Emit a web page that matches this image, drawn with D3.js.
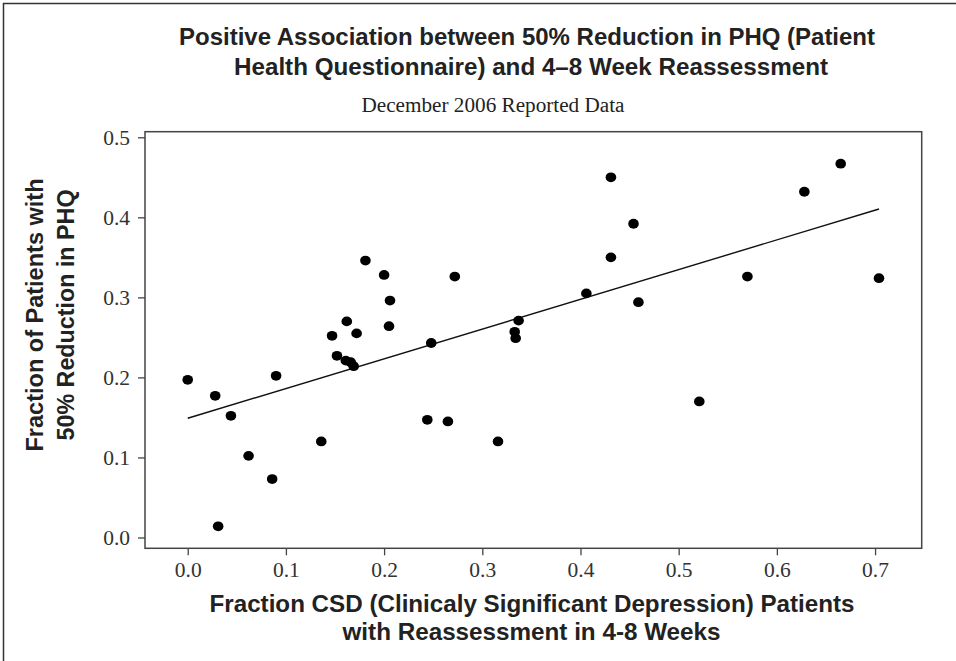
<!DOCTYPE html>
<meta charset="utf-8">
<head>
<script src="https://cdn.jsdelivr.net/npm/d3@7"></script>
<style>
  body { margin: 0; background: #fff; }
  .tick text { font-family: "Liberation Serif", "Times New Roman", serif; font-size: 21.5px; fill: #333; }
  .tick line { stroke: #444; stroke-width: 1.3; }
  .ttl { font-family: "Liberation Sans", Arial, sans-serif; font-weight: bold; fill: #222; }
</style>
</head>
<body>
<div id="chart"></div>
<script>
// data
var csdFraction = [0.000, 0.028, 0.044, 0.062, 0.086, 0.031, 0.090, 0.136, 0.152, 0.161,
                   0.166, 0.169, 0.244, 0.265, 0.316, 0.248, 0.334, 0.181, 0.200, 0.272,
                   0.206, 0.162, 0.147, 0.172, 0.205, 0.337, 0.333, 0.431, 0.454, 0.431,
                   0.406, 0.459, 0.570, 0.628, 0.665, 0.704, 0.521];
var phqFraction = [0.197, 0.177, 0.152, 0.102, 0.073, 0.014, 0.202, 0.120, 0.227, 0.221,
                   0.219, 0.214, 0.147, 0.145, 0.120, 0.243, 0.249, 0.346, 0.328, 0.326,
                   0.296, 0.270, 0.252, 0.255, 0.264, 0.271, 0.257, 0.450, 0.392, 0.350,
                   0.305, 0.294, 0.326, 0.432, 0.467, 0.324, 0.170];
var xTicks = [0, 0.1, 0.2, 0.3, 0.4, 0.5, 0.6, 0.7];
var yTicks = [0, 0.1, 0.2, 0.3, 0.4, 0.5];
// fitted line (intercept, slope) as drawn
var fitIntercept = 0.149, fitSlope = 0.3714;

var width = 956, height = 661;
var box = {left: 145, right: 921.7, top: 131.7, bottom: 548.3};

var svg = d3.select("#chart").append("svg")
    .attr("width", width)
    .attr("height", height);

// outer frame of the figure
svg.append("rect")
    .attr("x", 3.5).attr("y", 3.5)
    .attr("width", width).attr("height", height)
    .attr("fill", "none").attr("stroke", "#333").attr("stroke-width", 1.5);

var x = d3.scaleLinear().domain([-0.0435, 0.7475]).range([box.left, box.right]);
var y = d3.scaleLinear().domain([-0.0135, 0.507]).range([box.bottom, box.top]);

// titles
svg.append("text").attr("class", "ttl")
    .attr("x", 527).attr("y", 45).attr("text-anchor", "middle")
    .attr("font-size", 23).attr("textLength", 696).attr("lengthAdjust", "spacingAndGlyphs")
    .text("Positive Association between 50% Reduction in PHQ (Patient");
svg.append("text").attr("class", "ttl")
    .attr("x", 531).attr("y", 74.5).attr("text-anchor", "middle")
    .attr("font-size", 23).attr("textLength", 594).attr("lengthAdjust", "spacingAndGlyphs")
    .text("Health Questionnaire) and 4\u20138 Week Reassessment");
svg.append("text")
    .attr("x", 493).attr("y", 111.5).attr("text-anchor", "middle")
    .attr("font-family", "Liberation Serif, Times New Roman, serif")
    .attr("font-size", 20).attr("fill", "#222")
    .attr("textLength", 263).attr("lengthAdjust", "spacingAndGlyphs")
    .text("December 2006 Reported Data");

// axes
var xAxis = svg.append("g")
    .attr("transform", "translate(0," + box.bottom + ")")
    .call(d3.axisBottom(x).tickValues(xTicks).tickFormat(d3.format(".1f"))
        .tickSize(7).tickPadding(6).tickSizeOuter(0));
xAxis.select(".domain").remove();

var yAxis = svg.append("g")
    .attr("transform", "translate(" + box.left + ",0)")
    .call(d3.axisLeft(y).tickValues(yTicks).tickFormat(d3.format(".1f"))
        .tickSize(7).tickPadding(8).tickSizeOuter(0));
yAxis.select(".domain").remove();

// plot box
svg.append("rect")
    .attr("x", box.left).attr("y", box.top)
    .attr("width", box.right - box.left).attr("height", box.bottom - box.top)
    .attr("fill", "none").attr("stroke", "#444").attr("stroke-width", 1.5);

// axis titles
svg.append("text").attr("class", "ttl")
    .attr("x", 532).attr("y", 611.5).attr("text-anchor", "middle")
    .attr("font-size", 24).attr("textLength", 645).attr("lengthAdjust", "spacingAndGlyphs")
    .text("Fraction CSD (Clinicaly Significant Depression) Patients");
svg.append("text").attr("class", "ttl")
    .attr("x", 531.5).attr("y", 640).attr("text-anchor", "middle")
    .attr("font-size", 24).attr("textLength", 378).attr("lengthAdjust", "spacingAndGlyphs")
    .text("with Reassessment in 4-8 Weeks");

var yTitle = svg.append("g").attr("transform", "translate(43,315) rotate(-90)");
yTitle.append("text").attr("class", "ttl")
    .attr("x", 0).attr("y", 0).attr("text-anchor", "middle")
    .attr("font-size", 24).attr("textLength", 273).attr("lengthAdjust", "spacingAndGlyphs")
    .text("Fraction of Patients with");
yTitle.append("text").attr("class", "ttl")
    .attr("x", 0).attr("y", 31).attr("text-anchor", "middle")
    .attr("font-size", 24).attr("textLength", 251).attr("lengthAdjust", "spacingAndGlyphs")
    .text("50% Reduction in PHQ");

// fitted line over the range of the data
var xMin = d3.min(csdFraction), xMax = d3.max(csdFraction);
svg.append("line")
    .attr("x1", x(xMin)).attr("y1", y(fitIntercept + fitSlope * xMin))
    .attr("x2", x(xMax)).attr("y2", y(fitIntercept + fitSlope * xMax))
    .attr("stroke", "#111").attr("stroke-width", 1.4);

// points
svg.append("g").selectAll("ellipse")
    .data(csdFraction)
    .enter().append("ellipse")
    .attr("cx", function(d) { return x(d); })
    .attr("cy", function(d, i) { return y(phqFraction[i]); })
    .attr("rx", 5.3).attr("ry", 4.9)
    .attr("fill", "#000");
</script>
</body>
</html>
